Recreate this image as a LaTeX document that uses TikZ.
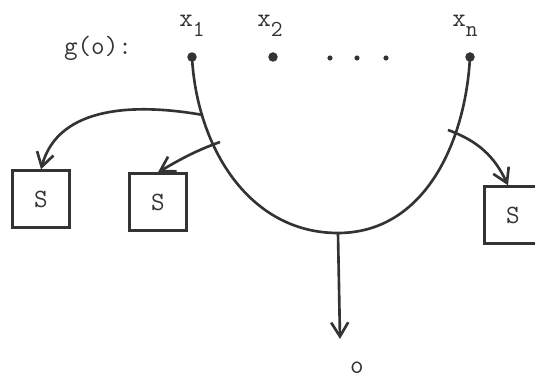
\documentclass[tikz,border=0pt]{standalone}
\usetikzlibrary{arrows.meta,positioning}
\definecolor{ink}{HTML}{333333}
\newcommand{\lowsub}[1]{\raisebox{-0.9ex}{\fontsize{13}{15}\selectfont #1}}
\tikzset{
  ln/.style={line width=1.5pt, draw=ink},
  arr/.style={ln, -{Straight Barb[length=2.8mm,width=3.4mm,line width=1.5pt]}},
  sbox/.style={draw=ink, line width=1.4pt, rectangle, minimum size=1.14cm, inner sep=0pt, text=ink, font=\ttfamily\fontsize{15}{18}\selectfont},
  pt/.style={circle, fill=ink, inner sep=0pt, minimum size=0.19cm},
  lbl/.style={font=\ttfamily\fontsize{15}{18}\selectfont, text=ink, inner sep=0pt},
}

\begin{document}
\begin{tikzpicture}[x=0.02cm,y=0.02cm]
\useasboundingbox (0,0) rectangle (535,379);
\clip (0,0) rectangle (535,379);

% inputs of g
\node[lbl] (g) at (98,331) {g(o):};
\foreach \nm/\px/\lx/\sb in {x1/192/192/1, x2/273/270/2, xn/470/465/n} {
  \node[pt] (\nm) at (\px,322) {};
  \node[lbl] (l\nm) at (\lx,353) {x\lowsub{\sb}};
}
\foreach \x in {330,357,386}
  \fill[ink] (\x,321) circle (2.6);

% the bowl
\coordinate (bot) at (338,146);
\draw[ln] (x1.center) to[out=-87,in=180] (bot) to[out=0,in=-93] (xn.center);

% stores
\node[sbox] (s1) at (41,180) {S};
\node[sbox] (s2) at (158,177) {S};
\node[sbox] (s3) at (513,164) {S};

\coordinate (t1) at (203,264);
\coordinate (t2) at (220,237);
\coordinate (t3) at (448,249);
\draw[arr] (t1) to[out=170,in=75] (s1.north);
\draw[arr] (t2) to[out=200,in=30] (s2.north);
\draw[arr] (t3) to[out=-20,in=115] ([xshift=-0.1cm]s3.north);

% output
\node[lbl] (o) at (357,11) {o};
\coordinate (otip) at (340,40);
\draw[arr] (bot) -- (otip);

\end{tikzpicture}
\end{document}
